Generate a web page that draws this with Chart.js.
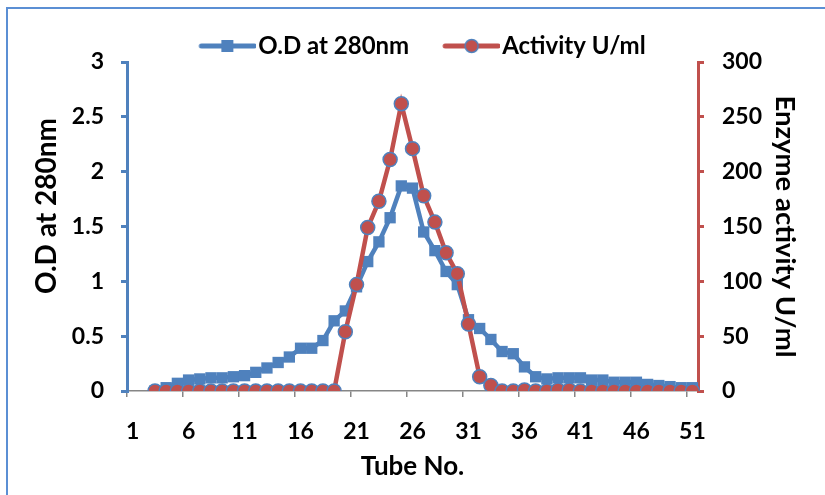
<!DOCTYPE html>
<html>
<head>
<meta charset="utf-8">
<script src="https://cdn.jsdelivr.net/npm/chart.js@4"></script>
<style>
  html, body { margin: 0; padding: 0; background: #fff; overflow: hidden; }
  #wrap { position: relative; width: 825px; height: 495px; }
  #frame { position: absolute; left: 6px; top: 7px; width: 900px; height: 600px; border: 2px solid #5b8fd4; }
  #chart { position: absolute; left: 0; top: 0; }
</style>
</head>
<body>
<div id="wrap">
  <div id="frame"></div>
  <canvas id="chart" width="825" height="495"></canvas>
</div>
<script>
const tubes = [];
for (let t = 1; t <= 51; t++) tubes.push(String(t));

// absorbance of each fraction (tubes 1-2 not measured)
const odValues = [null, null, 0.00, 0.03, 0.07, 0.10, 0.11, 0.12, 0.12, 0.13,
  0.14, 0.17, 0.21, 0.26, 0.31, 0.39, 0.39, 0.46, 0.64, 0.73,
  0.95, 1.18, 1.36, 1.58, 1.87, 1.85, 1.45, 1.28, 1.09, 0.97,
  0.65, 0.57, 0.47, 0.36, 0.34, 0.22, 0.13, 0.11, 0.12, 0.12,
  0.12, 0.10, 0.10, 0.08, 0.08, 0.08, 0.06, 0.05, 0.04, 0.03, 0.03];

// enzyme activity U/ml of each fraction
const activityValues = [null, null, 0, 0, 0, 0, 0, 0, 0, 0,
  0, 0, 0, 0, 0, 0, 0, 0, 0, 54,
  97, 149, 173, 211, 262, 221, 178, 154, 126, 107,
  61, 13, 5, 0, 0, 1, 0, 0, 1, 1,
  0, 0, 0, 0, 0, 0, 0, 0, 0, 0, 0];

const odTicks = [0, 0.5, 1, 1.5, 2, 2.5, 3];
const activityTicks = [0, 50, 100, 150, 200, 250, 300];

const BLUE = '#4f81bd';
const RED = '#c0504d';
const FONT = 'Lato';

// legend swatch: short thick line with the series marker in the middle
function swatch(color, marker) {
  const c = document.createElement('canvas');
  c.width = 67; c.height = 16;
  const g = c.getContext('2d');
  g.strokeStyle = color;
  g.lineWidth = 5;
  g.lineCap = 'round';
  g.beginPath(); g.moveTo(12, 8); g.lineTo(65, 8); g.stroke();
  if (marker === 'rect') {
    g.fillStyle = color;
    g.fillRect(32, 2, 12, 12);
  } else {
    g.fillStyle = RED;
    g.strokeStyle = BLUE;
    g.lineWidth = 1.5;
    g.beginPath(); g.arc(38.5, 8, 6.5, 0, Math.PI * 2); g.fill(); g.stroke();
  }
  return c;
}

// legend sits a little right of the canvas centre
const legendShift = {
  id: 'legendShift',
  afterLayout(chart) {
    chart.legend.left += 10;
    chart.legend.right += 10;
  }
};

const tickFont = { family: FONT, size: 23, weight: 'bold' };

const ctx = document.getElementById('chart').getContext('2d');

const chart = new Chart(ctx, {
  type: 'line',
  data: {
    labels: tubes,
    datasets: [
      {
        label: 'O.D at 280nm',
        data: odValues,
        yAxisID: 'y',
        borderColor: BLUE,
        backgroundColor: BLUE,
        borderWidth: 4.5,
        pointStyle: 'rect',
        pointRadius: 8,
        pointBorderWidth: 0,
        order: 1
      },
      {
        label: 'Activity U/ml',
        data: activityValues,
        yAxisID: 'y1',
        borderColor: RED,
        backgroundColor: RED,
        pointBackgroundColor: RED,
        pointBorderColor: BLUE,
        borderWidth: 4.5,
        pointStyle: 'circle',
        pointRadius: 7,
        pointBorderWidth: 1.5,
        order: 0
      }
    ]
  },
  options: {
    responsive: false,
    animation: false,
    layout: { padding: 0 },
    plugins: {
      tooltip: { enabled: false },
      legend: {
        position: 'top',
        maxHeight: 62,
        labels: {
          usePointStyle: true,
          pointStyleWidth: 47,
          padding: 34,
          color: '#000',
          font: { family: FONT, size: 24, weight: 'bold' },
          generateLabels() {
            return [
              { text: 'O.D at 280nm', pointStyle: swatch(BLUE, 'rect'), datasetIndex: 0, fontColor: '#000', lineWidth: 0 },
              { text: 'Activity U/ml', pointStyle: swatch(RED, 'circle'), datasetIndex: 1, fontColor: '#000', lineWidth: 0 }
            ];
          }
        }
      }
    },
    scales: {
      x: {
        type: 'category',
        offset: true,
        afterFit(s) { s.height = 104; },
        border: { color: '#868686', width: 1.5 },
        grid: {
          offset: true,
          drawOnChartArea: false,
          tickLength: 6,
          lineWidth: 1.5,
          color: c => (c.index % 5 === 0 ? '#868686' : 'rgba(0,0,0,0)')
        },
        ticks: {
          autoSkip: false,
          maxRotation: 0,
          padding: 21,
          color: '#000',
          font: tickFont,
          callback: (v, i) => (i % 5 === 0 ? tubes[i] : '')
        },
        title: {
          display: true,
          text: 'Tube No.',
          color: '#000',
          font: { family: FONT, size: 26, weight: 'bold' },
          padding: { top: 0, bottom: 13 }
        }
      },
      y: {
        position: 'left',
        min: 0,
        max: 3,
        afterFit(s) { s.width = 127; },
        afterBuildTicks(s) { s.ticks = odTicks.map(v => ({ value: v })); },
        border: { color: BLUE, width: 3 },
        grid: { drawOnChartArea: false, tickLength: 6, lineWidth: 3, color: BLUE },
        ticks: {
          padding: 17,
          color: '#000',
          font: tickFont,
          callback: v => String(v)
        },
        title: {
          display: true,
          // leading spaces lift the title a bit above the axis middle
          text: '      O.D at 280nm',
          color: '#000',
          font: { family: FONT, size: 28, weight: 'bold' },
          padding: { top: 30, bottom: 0 }
        }
      },
      y1: {
        position: 'right',
        min: 0,
        max: 300,
        afterFit(s) { s.width = 127; },
        afterBuildTicks(s) { s.ticks = activityTicks.map(v => ({ value: v })); },
        border: { color: RED, width: 3 },
        grid: { drawOnChartArea: false, tickLength: 6, lineWidth: 3, color: RED },
        ticks: {
          padding: 18,
          color: '#000',
          font: tickFont
        },
        title: {
          display: true,
          text: 'Enzyme activity U/ml',
          color: '#000',
          font: { family: FONT, size: 27.5, weight: 'bold' },
          padding: { top: 23.5, bottom: 0 }
        }
      }
    }
  },
  plugins: [legendShift]
});
</script>
</body>
</html>
